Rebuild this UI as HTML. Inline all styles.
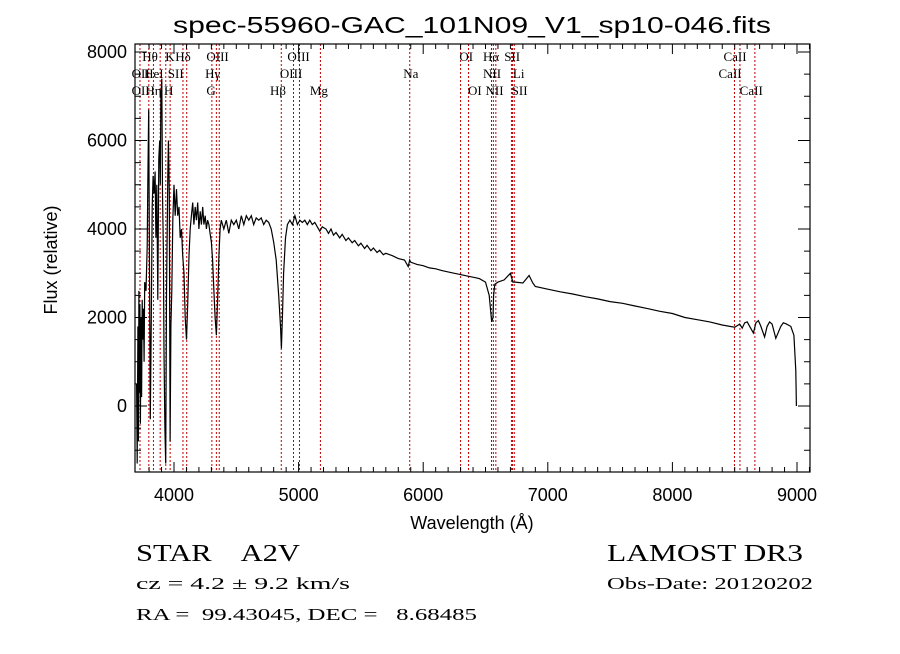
<!DOCTYPE html>
<html><head><meta charset="utf-8"><style>
body{margin:0;background:#fff;}
svg text{font-family:"Liberation Sans",sans-serif;fill:#000;}
svg text.ser, svg .ser text{font-family:"Liberation Serif",serif;}
</style></head><body>
<svg id="chart" width="900" height="649" viewBox="0 0 900 649" xmlns="http://www.w3.org/2000/svg">
<rect width="900" height="649" fill="#fff"/>
<text x="472" y="33" text-anchor="middle" font-size="23" textLength="598" lengthAdjust="spacingAndGlyphs">spec-55960-GAC_101N09_V1_sp10-046.fits</text>
<g id="lines"></g>
<g id="labels" class="ser" font-size="13"></g>
<path id="spec" fill="none" stroke="#000" stroke-width="1.2"/>
<g id="axes"></g>
<text x="472" y="529" text-anchor="middle" font-size="18">Wavelength (Å)</text>
<text transform="translate(57,260) rotate(-90)" text-anchor="middle" font-size="18">Flux (relative)</text>
<text class="ser" x="136" y="561" font-size="24" xml:space="preserve" textLength="164" lengthAdjust="spacingAndGlyphs">STAR    A2V</text>
<text class="ser" x="607" y="561" font-size="24" textLength="196" lengthAdjust="spacingAndGlyphs">LAMOST DR3</text>
<text class="ser" x="136" y="589" font-size="17" textLength="214" lengthAdjust="spacingAndGlyphs">cz = 4.2 ± 9.2 km/s</text>
<text class="ser" x="607" y="589" font-size="17" textLength="206" lengthAdjust="spacingAndGlyphs">Obs-Date: 20120202</text>
<text class="ser" x="136" y="620" font-size="17" xml:space="preserve" textLength="341" lengthAdjust="spacingAndGlyphs">RA =  99.43045, DEC =   8.68485</text>
</svg>
<script>
const wave=[3700,3705,3710,3714,3718,3722,3726,3730,3735,3740,3745,3750,3755,3760,3765,3775,3785,3790,3797,3802,3810,3818,3825,3832,3840,3848,3855,3862,3870,3878,3885,3890,3895,3902,3908,3915,3920,3927,3933,3940,3950,3955,3962,3969,3975,3982,3990,4000,4010,4020,4030,4040,4050,4060,4070,4080,4090,4100,4110,4120,4130,4140,4150,4160,4170,4180,4190,4200,4210,4220,4230,4240,4250,4260,4270,4280,4290,4300,4310,4320,4330,4340,4350,4360,4370,4380,4400,4420,4440,4460,4480,4500,4520,4540,4560,4580,4600,4620,4640,4660,4680,4700,4720,4740,4760,4780,4800,4820,4840,4855,4862,4870,4880,4895,4910,4930,4950,4970,4990,5010,5030,5050,5070,5090,5110,5130,5150,5170,5190,5220,5240,5260,5280,5300,5330,5350,5380,5400,5430,5450,5480,5500,5530,5550,5580,5600,5630,5650,5680,5700,5750,5800,5850,5880,5892,5900,5950,6000,6050,6100,6150,6200,6250,6300,6350,6400,6450,6500,6530,6550,6560,6565,6575,6600,6650,6700,6720,6740,6800,6850,6880,6900,7000,7100,7200,7300,7400,7500,7600,7700,7800,7900,8000,8100,8200,8300,8400,8500,8540,8560,8580,8600,8620,8650,8670,8690,8710,8740,8760,8780,8800,8830,8870,8890,8910,8950,8975,8990,8995,9000];
const flux=[500,-1300,1800,-800,2600,300,2300,-400,2000,200,2400,1500,2200,1000,2800,2600,3600,5000,6700,4000,-300,2000,4500,5200,4800,5300,3800,5000,2400,5600,6000,5000,7000,7400,4800,3500,1200,-500,-1300,2500,5200,6000,4800,-800,1800,2600,4200,5000,4300,4900,4300,4500,3800,4000,3400,3000,2000,1500,2300,3400,4000,4300,4600,4100,4500,4200,4600,4000,4400,4100,4500,4100,4300,4000,4200,4100,3900,3700,3300,2600,2000,1600,2400,3400,4000,4200,4000,4200,3900,4200,4100,4200,4000,4300,4100,4300,4200,4300,4100,4250,4200,4250,4100,4200,4150,4000,3700,3300,2500,1800,1300,2000,3000,3800,4100,4200,4100,4300,4100,4200,4150,4200,4100,4200,4100,4150,4050,3950,4050,4000,3900,4000,3860,3920,3800,3880,3740,3800,3690,3740,3620,3680,3560,3630,3510,3570,3470,3520,3420,3450,3400,3330,3300,3150,3300,3250,3200,3170,3120,3100,3060,3030,3000,2970,2940,2910,2880,2800,2500,1900,2000,2500,2750,2800,2850,3000,2800,2800,2780,2950,2780,2700,2640,2580,2530,2470,2420,2360,2320,2260,2200,2140,2090,2000,1950,1900,1830,1780,1850,1760,1880,1900,1800,1650,1880,1930,1800,1560,1800,1900,1850,1530,1800,1880,1860,1800,1600,800,0];
const lineWaves=[3727,3798,3835,3889,3934,3969,4072,4102,4304,4340,4363,4861,4959,5007,5175,5892,6300,6364,6548,6563,6583,6708,6717,6731,8498,8542,8662];
const xTicks=[4000,5000,6000,7000,8000,9000];
const yTicks=[0,2000,4000,6000,8000];
const labelText=["Hθ","K","Hδ","OIII","OIII","OI","Hα","SII","CaII","OII","HeI","SII","Hγ","OIII","Na","NII","Li","CaII","OII","Hη","H","G","Hβ","Mg","OI","NII","SII","CaII"];
const labelWave=[3745,3930,4010,4260,4910,6290,6480,6650,8410,3660,3760,3950,4250,4850,5840,6480,6720,8370,3660,3770,3920,4260,4770,5090,6360,6500,6710,8540];
const labelRow=[0,0,0,0,0,0,0,0,0,1,1,1,1,1,1,1,1,1,2,2,2,2,2,2,2,2,2,2];

const L=135,R=810,T=44,B=472;
const X=w=>174+(w-4000)*0.1246;
const Y=f=>406-f*0.04425;
const NS="http://www.w3.org/2000/svg";
function mk(tag,attrs,parent){const e=document.createElementNS(NS,tag);for(const k in attrs)e.setAttribute(k,attrs[k]);parent.appendChild(e);return e;}

const lg=document.getElementById('lines');
lineWaves.forEach(w=>{
  const e=mk('line',{x1:X(w),x2:X(w),y1:T,y2:B,stroke:'#c00000','stroke-width':1,'stroke-dasharray':'2,2'},lg);
  
  
});
const lb=document.getElementById('labels');
labelText.forEach((t,i)=>{
  const e=mk('text',{x:X(labelWave[i]),y:61+labelRow[i]*17,class:'ser'},lb);
  e.textContent=t;
  
  
});

let d='';
wave.forEach((w,i)=>{d+=(i?'L':'M')+X(w).toFixed(1)+','+Y(flux[i]).toFixed(1);});
document.getElementById('spec').setAttribute('d',d);

const ax=document.getElementById('axes');
mk('rect',{x:L,y:T,width:R-L,height:B-T,fill:'none',stroke:'#000','stroke-width':1.2},ax);
for(let w=3800;w<=9100;w+=100){
  const major=w%1000===0, len=major?10:5;
  mk('line',{x1:X(w),x2:X(w),y1:B,y2:B-len,stroke:'#000'},ax);
  mk('line',{x1:X(w),x2:X(w),y1:T,y2:T+len,stroke:'#000'},ax);
}
for(let f=-1000;f<=8000;f+=500){
  const major=f%2000===0, len=major?12:6;
  mk('line',{x1:L,x2:L+len,y1:Y(f),y2:Y(f),stroke:'#000'},ax);
  mk('line',{x1:R,x2:R-len,y1:Y(f),y2:Y(f),stroke:'#000'},ax);
}
xTicks.forEach(w=>{
  const e=mk('text',{x:X(w),y:501,'text-anchor':'middle','font-size':18},ax);
  e.textContent=w;
  
  
});
yTicks.forEach(f=>{
  const e=mk('text',{x:127,y:Y(f)+6,'text-anchor':'end','font-size':18},ax);
  e.textContent=f;
  
  
});
</script>
</body></html>
